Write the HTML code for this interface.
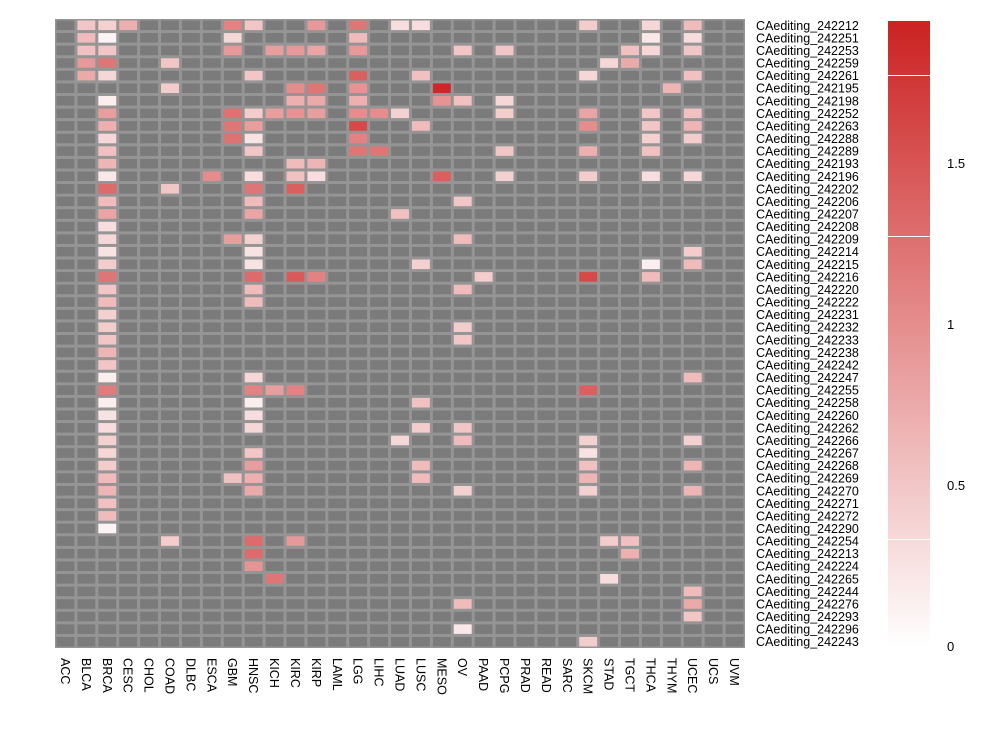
<!DOCTYPE html>
<html><head><meta charset="utf-8">
<style>
body{margin:0;background:#fff;font-family:"Liberation Sans",sans-serif;}
svg text{font-family:"Liberation Sans",sans-serif;}
</style></head>
<body>
<svg id="chart" width="996" height="724" xmlns="http://www.w3.org/2000/svg">
<defs>
<linearGradient id="lg" x1="0" y1="1" x2="0" y2="0">
<stop offset="0" stop-color="#ffffff"/>
<stop offset="1" stop-color="#cc2222"/>
</linearGradient>
</defs>
<g id="grid"></g>
<g id="rowlabels"></g>
<g id="collabels"></g>
<g id="legend">
<rect x="888" y="21" width="42" height="625" fill="url(#lg)"/>
<line x1="888" x2="930" y1="75.5" y2="75.5" stroke="#fff" stroke-width="1"/>
<line x1="888" x2="930" y1="236.5" y2="236.5" stroke="#fff" stroke-width="1"/>
<line x1="888" x2="930" y1="539.5" y2="539.5" stroke="#fff" stroke-width="1"/>
<text x="947" y="168" font-size="13" fill="#000">1.5</text>
<text x="947" y="329" font-size="13" fill="#000">1</text>
<text x="947" y="490" font-size="13" fill="#000">0.5</text>
<text x="947" y="651" font-size="13" fill="#000">0</text>
</g>
</svg>
<script>
const columns = ["ACC","BLCA","BRCA","CESC","CHOL","COAD","DLBC","ESCA","GBM","HNSC","KICH","KIRC","KIRP","LAML","LGG","LIHC","LUAD","LUSC","MESO","OV","PAAD","PCPG","PRAD","READ","SARC","SKCM","STAD","TGCT","THCA","THYM","UCEC","UCS","UVM"];
const rows = ["CAediting_242212","CAediting_242251","CAediting_242253","CAediting_242259","CAediting_242261","CAediting_242195","CAediting_242198","CAediting_242252","CAediting_242263","CAediting_242288","CAediting_242289","CAediting_242193","CAediting_242196","CAediting_242202","CAediting_242206","CAediting_242207","CAediting_242208","CAediting_242209","CAediting_242214","CAediting_242215","CAediting_242216","CAediting_242220","CAediting_242222","CAediting_242231","CAediting_242232","CAediting_242233","CAediting_242238","CAediting_242242","CAediting_242247","CAediting_242255","CAediting_242258","CAediting_242260","CAediting_242262","CAediting_242266","CAediting_242267","CAediting_242268","CAediting_242269","CAediting_242270","CAediting_242271","CAediting_242272","CAediting_242290","CAediting_242254","CAediting_242213","CAediting_242224","CAediting_242265","CAediting_242244","CAediting_242276","CAediting_242293","CAediting_242296","CAediting_242243"];
// sparse values: [rowIndex, column name, value]; all other cells NA
const cellRows = [0,0,0,0,0,0,0,0,0,0,0,0, 1,1,1,1,1,1, 2,2,2,2,2,2,2,2,2,2,2,2, 3,3,3,3,3, 4,4,4,4,4,4,4, 5,5,5,5,5,5, 6,6,6,6,6,6,6, 7,7,7,7,7,7,7,7,7,7,7,7,7, 8,8,8,8,8,8,8,8, 9,9,9,9,9,9, 10,10,10,10,10,10,10, 11,11,11, 12,12,12,12,12,12,12,12,12,12, 13,13,13,13, 14,14,14, 15,15,15, 16, 17,17,17,17, 18,18,18, 19,19,19,19,19, 20,20,20,20,20,20,20, 21,21,21, 22,22, 23, 24,24, 25,25, 26, 27, 28,28,28, 29,29,29,29,29, 30,30,30, 31,31, 32,32,32,32, 33,33,33,33,33, 34,34,34, 35,35,35,35,35, 36,36,36,36,36, 37,37,37,37,37, 38, 39, 40, 41,41,41,41,41, 42,42, 43, 44,44, 45, 46,46, 47, 48, 49];
const cellCols = ["BLCA","BRCA","CESC","GBM","HNSC","KIRP","LGG","LUAD","LUSC","SKCM","THCA","UCEC",
"BLCA","BRCA","GBM","LGG","THCA","UCEC",
"BLCA","BRCA","GBM","KICH","KIRC","KIRP","LGG","OV","PCPG","TGCT","THCA","UCEC",
"BLCA","BRCA","COAD","STAD","TGCT",
"BLCA","BRCA","HNSC","LGG","LUSC","SKCM","UCEC",
"COAD","KIRC","KIRP","LGG","MESO","THYM",
"BRCA","KIRC","KIRP","LGG","MESO","OV","PCPG",
"BRCA","GBM","HNSC","KICH","KIRC","KIRP","LGG","LIHC","LUAD","PCPG","SKCM","THCA","UCEC",
"BRCA","GBM","HNSC","LGG","LUSC","SKCM","THCA","UCEC",
"BRCA","GBM","HNSC","LGG","THCA","UCEC",
"BRCA","HNSC","LGG","LIHC","PCPG","SKCM","THCA",
"BRCA","KIRC","KIRP",
"BRCA","ESCA","HNSC","KIRC","KIRP","MESO","PCPG","SKCM","THCA","UCEC",
"BRCA","COAD","HNSC","KIRC",
"BRCA","HNSC","OV",
"BRCA","HNSC","LUAD",
"BRCA",
"BRCA","GBM","HNSC","OV",
"BRCA","HNSC","UCEC",
"BRCA","HNSC","LUSC","THCA","UCEC",
"BRCA","HNSC","KIRC","KIRP","PAAD","SKCM","THCA",
"BRCA","HNSC","OV",
"BRCA","HNSC",
"BRCA",
"BRCA","OV",
"BRCA","OV",
"BRCA",
"BRCA",
"BRCA","HNSC","UCEC",
"BRCA","HNSC","KICH","KIRC","SKCM",
"BRCA","HNSC","LUSC",
"BRCA","HNSC",
"BRCA","HNSC","LUSC","OV",
"BRCA","LUAD","OV","SKCM","UCEC",
"BRCA","HNSC","SKCM",
"BRCA","HNSC","LUSC","SKCM","UCEC",
"BRCA","GBM","HNSC","LUSC","SKCM",
"BRCA","HNSC","OV","SKCM","UCEC",
"BRCA","BRCA","BRCA",
"COAD","HNSC","KIRC","STAD","TGCT",
"HNSC","TGCT",
"HNSC",
"KICH","STAD",
"UCEC",
"OV","UCEC",
"UCEC",
"OV",
"SKCM"];
const cellVals = [0.5,0.4,0.7,1.1,0.5,0.9,1.2,0.3,0.3,0.45,0.35,0.6,
0.6,0.1,0.35,0.6,0.2,0.3,
0.55,0.5,0.9,0.85,0.9,0.8,0.9,0.5,0.5,0.55,0.35,0.5,
0.9,1.2,0.5,0.35,0.75,
0.75,0.35,0.5,1.4,0.55,0.35,0.55,
0.45,1.0,1.2,0.95,1.9,0.65,
0.15,0.7,0.75,0.7,0.95,0.55,0.35,
0.85,1.25,0.45,0.85,0.95,0.85,1.0,1.0,0.4,0.45,0.8,0.5,0.55,
0.7,1.2,0.85,1.6,0.6,1.0,0.5,0.65,
0.35,1.25,0.25,1.1,0.4,0.45,
0.55,0.5,1.2,1.2,0.5,0.7,0.55,
0.65,0.6,0.65,
0.2,1.0,0.3,0.55,0.3,1.4,0.4,0.45,0.3,0.35,
1.3,0.5,1.2,1.4,
0.6,0.6,0.5,
0.8,0.8,0.55,
0.3,
0.35,0.85,0.4,0.6,
0.25,0.25,0.45,
0.45,0.25,0.4,0.15,0.6,
1.2,1.3,1.45,1.1,0.45,1.6,0.6,
0.5,0.6,0.6,
0.6,0.6,
0.4,
0.45,0.45,
0.5,0.5,
0.65,
0.5,
0.15,0.35,0.6,
1.15,1.1,0.85,1.1,1.4,
0.15,0.15,0.55,
0.25,0.3,
0.3,0.35,0.45,0.5,
0.4,0.35,0.6,0.4,0.4,
0.35,0.5,0.25,
0.45,0.85,0.6,0.55,0.65,
0.6,0.55,0.7,0.6,0.65,
0.65,0.75,0.4,0.4,0.65,
0.55,0.6,0.1,
0.45,1.3,0.9,0.45,0.55,
1.3,0.7,
0.95,
1.2,0.3,
0.6,
0.6,0.75,
0.5,
0.2,
0.45];
// row 38/39/40 BRCA fix (entries listed as triple BRCA above belong to rows 38,39,40)
</script>
<script>
const NS = "http://www.w3.org/2000/svg";
const X0 = 55, X1 = 745, Y0 = 19, Y1 = 648;
const cw = (X1 - X0) / columns.length, rh = (Y1 - Y0) / rows.length;
const VMAX = 1.94;
function xScale(ci){ return X0 + ci * cw; }
function yScale(ri){ return Y0 + ri * rh; }
function color(v){
  const t = Math.max(0, Math.min(1, v / VMAX));
  const r = Math.round(255 + (204 - 255) * t);
  const g = Math.round(255 + (34 - 255) * t);
  const b = Math.round(255 + (34 - 255) * t);
  return `rgb(${r},${g},${b})`;
}
// rows 38,39,40 are single-BRCA rows; cellRows lists them correctly
const valueMap = {};
for (let i = 0; i < cellVals.length; i++) {
  valueMap[cellRows[i] + "|" + cellCols[i]] = cellVals[i];
}
const grid = document.getElementById('grid');
const bg = document.createElementNS(NS, 'rect');
bg.setAttribute('x', X0); bg.setAttribute('y', Y0);
bg.setAttribute('width', X1 - X0); bg.setAttribute('height', Y1 - Y0);
bg.setAttribute('fill', '#959595');


grid.appendChild(bg);
for (let r = 0; r < rows.length; r++) {
  for (let c = 0; c < columns.length; c++) {
    const v = valueMap[r + "|" + columns[c]];
    const rect = document.createElementNS(NS, 'rect');
    rect.setAttribute('x', (xScale(c) + 1.5).toFixed(2));
    rect.setAttribute('y', (yScale(r) + 1.5).toFixed(2));
    rect.setAttribute('width', (cw - 3).toFixed(2));
    rect.setAttribute('height', (rh - 3).toFixed(2));
    rect.setAttribute('fill', v === undefined ? '#7b7b7b' : color(v));
    
    
    grid.appendChild(rect);
  }
}
const rl = document.getElementById('rowlabels');
rows.forEach((name, r) => {
  const t = document.createElementNS(NS, 'text');
  t.setAttribute('x', 756);
  t.setAttribute('y', (yScale(r) + rh / 2 + 4.5).toFixed(2));
  t.setAttribute('font-size', '12.5');
  t.setAttribute('fill', '#000');
  t.textContent = name;
  
  
  rl.appendChild(t);
});
const cl = document.getElementById('collabels');
columns.forEach((name, c) => {
  const t = document.createElementNS(NS, 'text');
  const cx = xScale(c) + cw / 2 - 4.5;
  t.setAttribute('transform', `translate(${cx.toFixed(2)},658) rotate(90)`);
  t.setAttribute('font-size', '12.5');
  t.setAttribute('fill', '#000');
  t.textContent = name;
  
  
  cl.appendChild(t);
});
</script>
</body></html>
